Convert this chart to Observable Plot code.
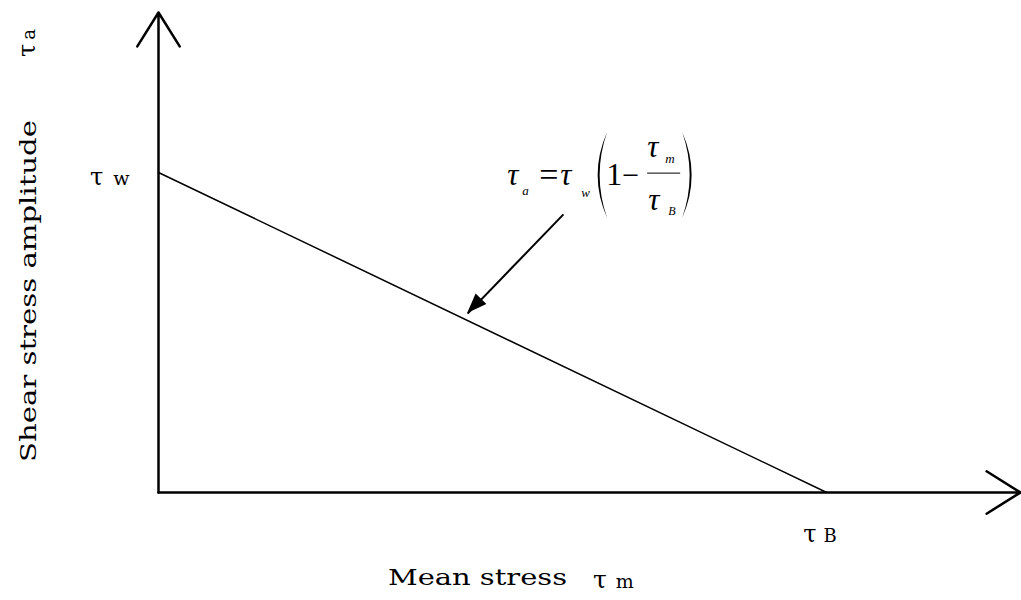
<!DOCTYPE html>
<html>
<head>
<meta charset="utf-8">
<script src="https://cdn.jsdelivr.net/npm/d3@7"></script>
<script src="https://cdn.jsdelivr.net/npm/@observablehq/plot@0.6"></script>
<style>
  html, body { margin: 0; padding: 0; background: #fff; }
  #chart svg { display: block; }
</style>
</head>
<body>
<div id="chart"></div>
<script>
// Goodman-type line for shear stress: τa = τw (1 − τm / τB)
const tauW = 1;            // fatigue limit τw on the amplitude axis
const tauB = 1;            // strength τB on the mean-stress axis
const axisExtentX = 1.29;  // how far the mean-stress axis runs
const axisExtentY = 1.5;   // how far the amplitude axis runs

const lineMean = [0, tauB];
const lineAmplitude = [tauW, 0];

// pointer from the formula to the line
const pointerFrom = [0.606, 0.869];
const pointerTo = [0.4626, 0.559];

const xTitle = "Mean stress";
const yTitle = "Shear stress amplitude";
const xSymbol = ["τ", "m"];
const ySymbol = ["τ", "a"];
const wLabel = ["τ", "w"];
const bLabel = ["τ", "B"];

const serif = "'DejaVu Serif', serif";
const mathFont = "'Liberation Serif', 'Times New Roman', serif";

const lineData = lineMean.map((m, i) => ({m, a: lineAmplitude[i]}));
const axes = [
  {x1: 0, y1: 0, x2: axisExtentX, y2: 0},
  {x1: 0, y1: 0, x2: 0, y2: axisExtentY}
];
const pointer = [{x1: pointerFrom[0], y1: pointerFrom[1], x2: pointerTo[0], y2: pointerTo[1]}];

const plot = Plot.plot({
  width: 1021,
  height: 600,
  marginLeft: 158,
  marginRight: 1,
  marginTop: 12,
  marginBottom: 108,
  x: {domain: [0, axisExtentX], axis: null},
  y: {domain: [0, axisExtentY], axis: null},
  style: {fontFamily: serif, background: "#fff"},
  marks: [
    Plot.arrow(axes, {x1: "x1", y1: "y1", x2: "x2", y2: "y2", stroke: "black",
      strokeWidth: 2.5, headLength: 24, headAngle: 64, bend: 0}),
    Plot.line(lineData, {x: "m", y: "a", stroke: "black", strokeWidth: 1.5}),
    Plot.link(pointer, {x1: "x1", y1: "y1", x2: "x2", y2: "y2", stroke: "black", strokeWidth: 2})
  ]
});

document.getElementById("chart").appendChild(plot);

const sx = plot.scale("x").apply, sy = plot.scale("y").apply;
const svg = d3.select(plot).append("g")
  .attr("text-anchor", "start")
  .attr("fill", "black");

// filled head of the pointer
{
  const tx = sx(pointerTo[0]), ty = sy(pointerTo[1]);
  const fx = sx(pointerFrom[0]), fy = sy(pointerFrom[1]);
  const len = Math.hypot(tx - fx, ty - fy);
  const ux = (tx - fx) / len, uy = (ty - fy) / len;
  const hl = 20, hw = 7.5;
  const bx = tx - ux * hl, by = ty - uy * hl;
  svg.append("path")
    .attr("d", `M${tx},${ty}L${bx - uy * hw},${by + ux * hw}L${bx + uy * hw},${by - ux * hw}Z`)
    .attr("fill", "black");
}

// symbol label: "τ" then a letter after a gap
function symbolText(parent, x, y, parts, tauSize, letterSize, gap) {
  const t = parent.append("text").attr("x", x).attr("y", y).attr("font-family", serif);
  t.append("tspan").attr("font-size", tauSize).text(parts[0]);
  t.append("tspan").attr("dx", gap).attr("font-size", letterSize).text(parts[1]);
  return t;
}

// τw at the top of the line, τB where it meets the mean axis
symbolText(svg, sx(0) - 68, sy(tauW) + 13, wLabel, 24, 19, 10);
symbolText(svg, sx(tauB) - 23, sy(0) + 50, bLabel, 24, 18, 7);

// axis titles
svg.append("text").attr("x", 388).attr("y", 585)
  .attr("font-family", serif).attr("font-size", 22)
  .attr("textLength", 179).attr("lengthAdjust", "spacingAndGlyphs")
  .text(xTitle);
symbolText(svg, 593, 588, xSymbol, 25, 19, 9);
{
  const g = svg.append("g").attr("transform", "translate(36,462) rotate(-90)");
  g.append("text").attr("font-family", serif).attr("font-size", 22)
    .attr("textLength", 342).attr("lengthAdjust", "spacingAndGlyphs")
    .text(yTitle);
  symbolText(g, 405, -1, ySymbol, 24, 18, 4);
}

// formula τa = τw (1 − τm / τB)
{
  const g = svg.append("g")
    .attr("transform", `translate(${sx(0.5225)},${sy(0.959)})`)
    .attr("font-family", mathFont);
  const it = (x, y, size, s) => g.append("text").attr("x", x).attr("y", y)
    .attr("font-size", size).attr("font-style", "italic").text(s);
  const up = (x, y, size, s) => g.append("text").attr("x", x).attr("y", y)
    .attr("font-size", size).text(s);
  it(0, 0, 31, "τ");
  it(15, 10, 13, "a");
  up(32, 1, 34, "=");
  it(53, 0, 31, "τ");
  it(74, 12, 13, "w");
  const paren = (x0, dir) => g.append("path")
    .attr("d", `M${x0},-53Q${x0 - dir * 19},-10 ${x0},33Q${x0 - dir * 15},-10 ${x0},-53Z`)
    .attr("fill", "black");
  paren(100, 1);
  up(99, 0, 32, "1");
  up(115, 0, 30, "\u2212");
  g.append("line").attr("x1", 140).attr("x2", 173).attr("y1", -12).attr("y2", -12)
    .attr("stroke", "black").attr("stroke-width", 1);
  it(140, -28, 31, "τ");
  it(158, -22, 13, "m");
  it(141, 25, 31, "τ");
  it(161, 30, 12, "B");
  paren(175, -1);
}
</script>
</body>
</html>
